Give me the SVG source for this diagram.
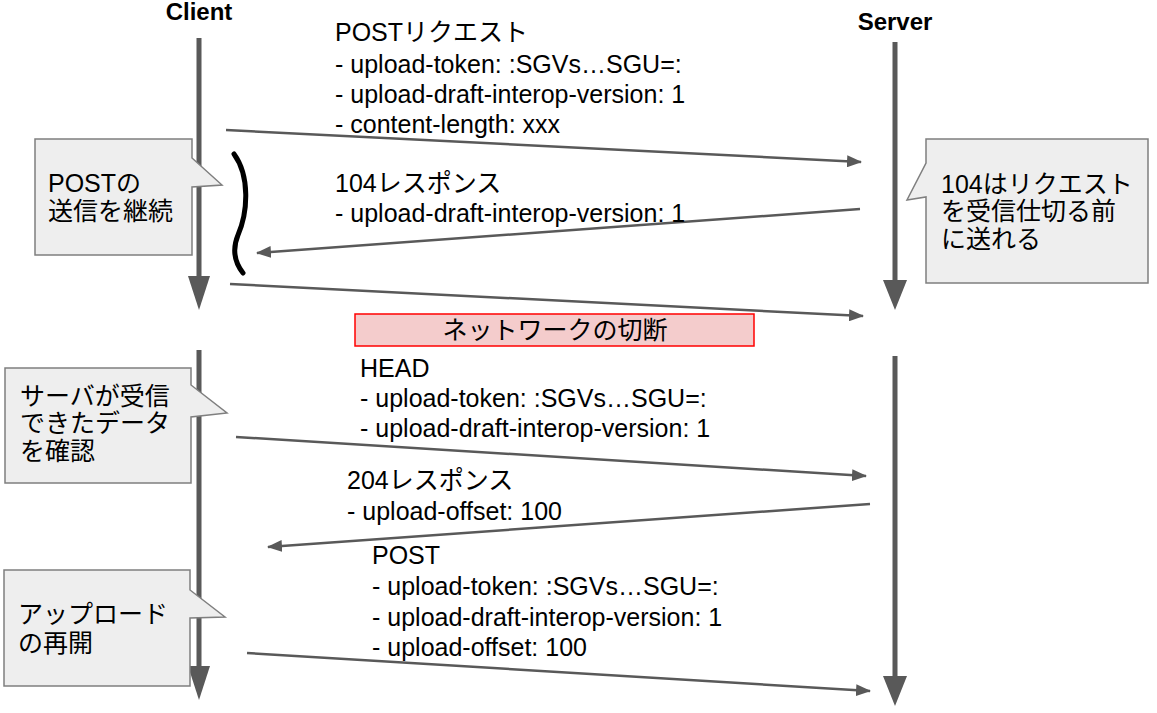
<svg xmlns="http://www.w3.org/2000/svg" width="1157" height="713" viewBox="0 0 1157 713">
<style>
.t{font-family:"Liberation Sans","Noto Sans CJK JP",sans-serif;font-size:25px;fill:#000}
.b{font-family:"Liberation Sans","Noto Sans CJK JP",sans-serif;font-size:24px;font-weight:bold;fill:#000}
.life{stroke:#595959;stroke-width:5;fill:none}
.head{fill:#595959}
.msg{stroke:#595959;stroke-width:2.5;fill:none;marker-end:url(#ah)}
.call{fill:#eeeeee;stroke:#7f7f7f;stroke-width:1.5}
</style>
<defs>
<marker id="ah" markerUnits="userSpaceOnUse" markerWidth="16" markerHeight="12" refX="14" refY="6" orient="auto">
<path d="M0,0 L15,6 L0,12 z" fill="#595959"/>
</marker>
</defs>
<rect width="1157" height="713" fill="#ffffff"/>

<g id="client">
<text class="b" x="199" y="20" text-anchor="middle">Client</text>
<line class="life" x1="199" y1="38" x2="199" y2="280"/>
<path class="head" d="M188,276 L210,276 L199,310 z"/>
<line class="life" x1="199" y1="350" x2="199" y2="670"/>
<path class="head" d="M188,666 L210,666 L199,700 z"/>
</g>

<g id="server">
<text class="b" x="895" y="30" text-anchor="middle">Server</text>
<line class="life" x1="895" y1="42" x2="895" y2="284"/>
<path class="head" d="M883,280 L907,280 L895,310 z"/>
<line class="life" x1="895" y1="356" x2="895" y2="680"/>
<path class="head" d="M883,676 L907,676 L895,706 z"/>
</g>

<g id="connectors">
<line class="msg" x1="226" y1="130" x2="861" y2="162"/>
<line class="msg" x1="860" y1="209" x2="257" y2="253"/>
<line class="msg" x1="230" y1="284" x2="863" y2="316"/>
<line class="msg" x1="236" y1="437" x2="866" y2="476"/>
<line class="msg" x1="870" y1="504" x2="268" y2="547"/>
<line class="msg" x1="247" y1="653" x2="870" y2="691"/>
</g>

<g id="wave">
<path d="M234,154 C250,176 248,212 238,235 C231,252 236,264 243,273" stroke="#000" stroke-width="5" fill="none" stroke-linecap="round"/>
</g>

<g id="label-post">
<text class="t" x="335" y="41">POSTリクエスト</text>
<text class="t" x="335" y="73">- upload-token: :SGVs…SGU=:</text>
<text class="t" x="335" y="103">- upload-draft-interop-version: 1</text>
<text class="t" x="335" y="133">- content-length: xxx</text>
</g>

<g id="label-104">
<text class="t" x="335" y="192">104レスポンス</text>
<text class="t" x="335" y="222">- upload-draft-interop-version: 1</text>
</g>

<g id="label-head">
<text class="t" x="360" y="377">HEAD</text>
<text class="t" x="360" y="407">- upload-token: :SGVs…SGU=:</text>
<text class="t" x="360" y="437">- upload-draft-interop-version: 1</text>
</g>

<g id="label-204">
<text class="t" x="347" y="489">204レスポンス</text>
<text class="t" x="347" y="520">- upload-offset: 100</text>
</g>

<g id="label-post2">
<text class="t" x="372" y="564">POST</text>
<text class="t" x="372" y="595">- upload-token: :SGVs…SGU=:</text>
<text class="t" x="372" y="626">- upload-draft-interop-version: 1</text>
<text class="t" x="372" y="656">- upload-offset: 100</text>
</g>

<g id="network-cut">
<rect x="355" y="314" width="399" height="32" fill="#f4cccc" stroke="#ff0000" stroke-width="1.5"/>
<text class="t" x="555" y="339" text-anchor="middle">ネットワークの切断</text>
</g>

<g id="callout-continue">
<path class="call" d="M35,139 L192,139 L192,158 L222,185 L192,187 L192,255 L35,255 z"/>
<text class="t" x="48" y="192">POSTの</text>
<text class="t" x="48" y="220">送信を継続</text>
</g>

<g id="callout-104">
<path class="call" d="M926,139 L1148,139 L1148,283 L926,283 L926,197 L907,200 L926,163 z"/>
<text class="t" x="941" y="193">104はリクエスト</text>
<text class="t" x="941" y="220">を受信仕切る前</text>
<text class="t" x="941" y="248">に送れる</text>
</g>

<g id="callout-check">
<path class="call" d="M5,368 L191,368 L191,385 L227,413 L191,417 L191,483 L5,483 z"/>
<text class="t" x="20" y="405">サーバが受信</text>
<text class="t" x="20" y="432">できたデータ</text>
<text class="t" x="20" y="460">を確認</text>
</g>

<g id="callout-resume">
<path class="call" d="M4,570 L190,570 L190,590 L225,617 L190,618 L190,686 L4,686 z"/>
<text class="t" x="18" y="623">アップロード</text>
<text class="t" x="18" y="652">の再開</text>
</g>
</svg>
